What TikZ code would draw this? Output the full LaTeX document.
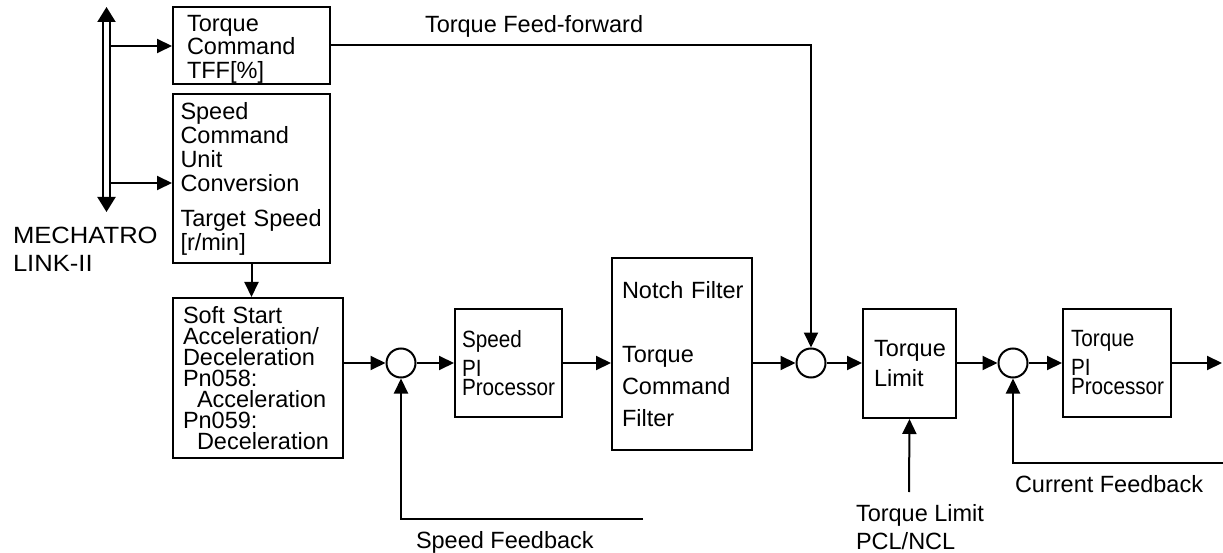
\documentclass[tikz,border=0pt]{standalone}
\usepackage{fontspec}
\setmainfont{Liberation Sans}
\usetikzlibrary{arrows.meta}
\tikzset{
  blk/.style={draw, align=left, inner ysep=0pt},
  sumpt/.style={draw, circle, minimum size=29pt, inner sep=0pt},
  arr/.style={-{Triangle[length=15pt,width=14pt]}},
  narrow/.style={font=\fontsize{23.5}{24}\selectfont\addfontfeature{FakeStretch=0.88}},
  lbl/.style={anchor=base west, inner sep=0pt}
}
\begin{document}
\begin{tikzpicture}[x=1pt,y=-1pt,line width=2pt,font=\fontsize{23.5}{23.5}\selectfont]
\useasboundingbox (0,0) rectangle (1223,553);
\node[blk, minimum width=157pt, minimum height=77pt, inner xsep=14pt, text width=129pt] (tcmd) at (251.5,45.5) {\rule{0pt}{23pt}Torque\\Command\\TFF[\%]};
\node[blk, minimum width=157pt, minimum height=169pt, inner xsep=7.5pt, text width=142pt, font=\fontsize{23.5}{24}\selectfont] (scmd) at (251.5,178.5) {Speed\\Command\\Unit\\Conversion\\[11pt]\mbox{Target Speed}\\{}[r/min]};
\node[blk, minimum width=170pt, minimum height=160pt, inner xsep=10pt, text width=150pt, font=\fontsize{23.5}{21}\selectfont] (soft) at (258,378) {Soft Start\\Acceleration/\\Deceleration\\Pn058:\\\hspace*{14pt}Acceleration\\Pn059:\\\hspace*{14pt}Deceleration};
\node[sumpt] (sum1) at (401,363) {};
\node[blk, narrow, minimum width=107pt, minimum height=108pt, inner xsep=7pt, text width=93pt] (spi) at (508.5,363) {Speed\\[5pt]PI\\[-5pt]Processor};
\node[blk, minimum width=140pt, minimum height=192pt, inner xsep=10pt, text width=120pt, font=\fontsize{23.5}{32}\selectfont] (notch) at (682,354) {\mbox{Notch Filter}\\[32pt]Torque\\Command\\Filter};
\node[sumpt] (sum2) at (811,363) {};
\node[blk, minimum width=93pt, minimum height=109pt, inner xsep=11pt, text width=71pt, font=\fontsize{23.5}{30}\selectfont] (tlim) at (909.5,363.5) {Torque\\Limit};
\node[sumpt] (sum3) at (1013,363) {};
\node[blk, narrow, minimum width=108pt, minimum height=108pt, inner xsep=8pt, text width=92pt] (tpi) at (1117,363) {Torque\\[5pt]PI\\[-5pt]Processor};

\node[anchor=north west, inner sep=0pt, align=left, font=\fontsize{23.5}{28}\selectfont\addfontfeature{FakeStretch=1.09}] (mlink) at (12,226) {MECHATRO\\LINK-II};
\node[lbl] (fflbl) at (424,33) {Torque Feed-forward};
\node[lbl] (sfblbl) at (415,548) {Speed Feedback};
\node[lbl] (cfblbl) at (1014,492) {Current Feedback};
\node[anchor=north west, inner sep=0pt, align=left, font=\fontsize{23.5}{28}\selectfont] (tllbl) at (855,503) {Torque Limit\\PCL/NCL};

\coordinate (bustop) at (106.5,7);
\coordinate (busbot) at (106.5,212);
\coordinate (tap1) at (110,46);
\coordinate (tap2) at (110,183);
\coordinate (sfb) at (643,519);
\coordinate (cfb) at (1223,463);
\coordinate (tlin) at (909,492);
\coordinate (out) at (1222,363);

\draw[double, double distance=5pt, {Triangle[length=15pt,width=18pt]}-{Triangle[length=15pt,width=18pt]}] (busbot) -- (bustop);
\draw[arr] (tap1) -- (tcmd.west |- tap1);
\draw[arr] (tap2) -- (scmd.west |- tap2);
\draw[arr] (tcmd.east) -| (sum2.north);
\draw[arr] (scmd.south) -- (scmd.south |- soft.north);
\draw[arr] (sum1 -| soft.east) -- (sum1);
\draw[arr] (sum1) -- (spi);
\draw[arr] (sfb) -| (sum1.south);
\draw[arr] (spi.east) -- (spi.east -| notch.west);
\draw[arr] (notch.east |- sum2) -- (sum2);
\draw[arr] (sum2) -- (tlim.west |- sum2);
\draw[arr] (tlin) -- (tlim.south);
\draw[arr] (tlim.east |- sum3) -- (sum3);
\draw[arr] (sum3) -- (tpi);
\draw[arr] (cfb) -| (sum3.south);
\draw[arr] (tpi.east) -- (out);
\end{tikzpicture}
\end{document}
